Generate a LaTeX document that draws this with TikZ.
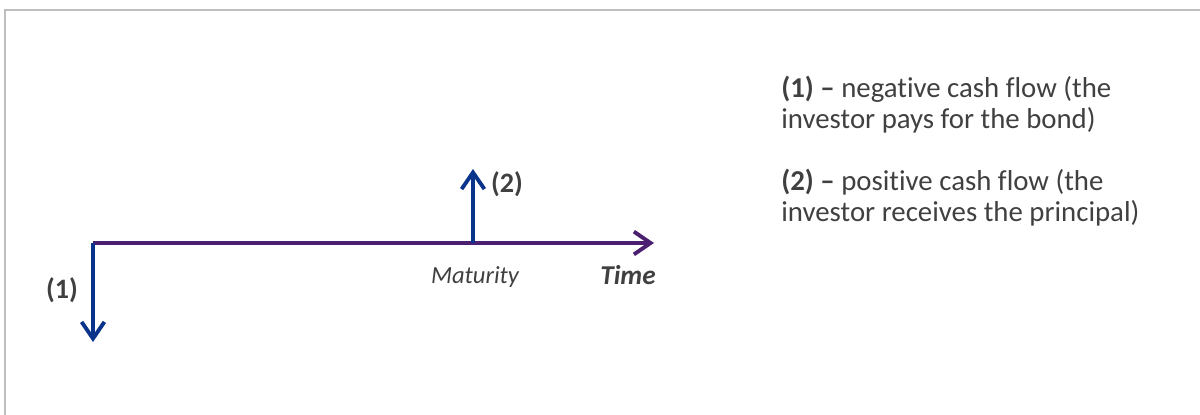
\documentclass[tikz,border=0pt]{standalone}
\usepackage{fontspec}
\setmainfont[RawFeature=-liga]{Carlito}
\usetikzlibrary{arrows.meta}
\definecolor{axispurple}{RGB}{76,32,112}
\definecolor{flowblue}{RGB}{10,52,140}
\definecolor{txtgray}{RGB}{64,64,64}
\definecolor{framegray}{RGB}{190,190,190}
\begin{document}
\begin{tikzpicture}[x=0.02cm,y=-0.02cm,
  tip/.style={-{Straight Barb[length=9.5pt,width=13pt,line width=2.2pt]}},
  axisline/.style={draw=axispurple,line width=2.2pt,tip},
  flowarrow/.style={draw=flowblue,line width=2.2pt,tip},
  lbl/.style={text=txtgray,inner sep=0pt},
  note/.style={text=txtgray,font=\fontsize{16.4}{18.1}\selectfont,align=left,anchor=base west,inner sep=0pt}]
\useasboundingbox (0,0) rectangle (1200,415);
\draw[framegray,line width=1.4pt] (5,420) -- (5,10) -- (1205,10);
\coordinate (origin) at (93,243);
\coordinate (mat) at (473,243);
\coordinate (tend) at (654,243);
\coordinate (down) at (93,342);
\coordinate (up) at (473,169);
\draw[axisline] (origin) -- (tend);
\draw[flowarrow] (origin) -- (down);
\draw[flowarrow] (mat) -- (up);
\node[lbl,font=\bfseries\fontsize{16}{18}\selectfont] (l1) at (62,290) {(1)};
\node[lbl,font=\bfseries\fontsize{16}{18}\selectfont] (l2) at (507,184) {(2)};
\node[lbl,font=\itshape\fontsize{14}{16}\selectfont] (lm) at (475,277) {Maturity};
\node[lbl,font=\bfseries\itshape\fontsize{15.5}{17}\selectfont] (lt) at (628,275) {Time};
\node[note] (n1) at (781,129) {\textbf{(1) –} negative cash flow (the\\investor pays for the bond)};
\node[note] (n2) at (781,222) {\textbf{(2) –} positive cash flow (the\\investor receives the principal)};
\end{tikzpicture}
\end{document}
